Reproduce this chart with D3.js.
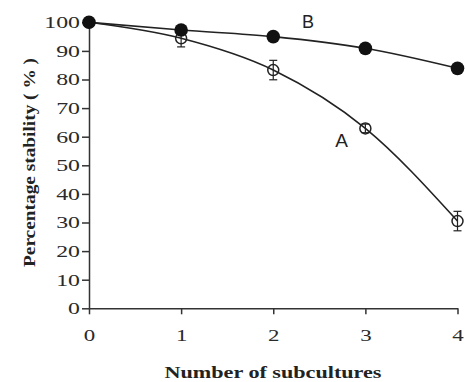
<!DOCTYPE html>
<html><head><meta charset="utf-8">
<script src="https://cdn.jsdelivr.net/npm/d3@7"></script>
<style>html,body{margin:0;padding:0;background:#fff;}svg{display:block;}</style>
</head><body>
<svg id="chart" width="465" height="382"></svg>
<script>
const subcultures = [0, 1, 2, 3, 4];
const seriesA = [100, 94.4, 83.3, 62.9, 30.5];
const errA = [1.2, 3.0, 3.4, 1.5, 3.4];
const seriesB = [100, 97.3, 95.0, 90.9, 83.9];
const errB = [1.0, 1.0, 1.0, 1.0, 1.2];
const yTicks = [0, 10, 20, 30, 40, 50, 60, 70, 80, 90, 100];
const xTicks = [0, 1, 2, 3, 4];

const svg = d3.select("#chart");
const x = d3.scaleLinear().domain([0, 4]).range([89, 457.5]);
const y = d3.scaleLinear().domain([0, 100]).range([308.3, 22.3]);
const ink = "#222";

function stretch(sel, k) {
  sel.each(function(){
    const w = this.getComputedTextLength();
    d3.select(this).attr("textLength", w * k).attr("lengthAdjust", "spacingAndGlyphs");
  });
}

// axes
const yAxis = svg.append("g").attr("transform", `translate(${x(0)},0)`)
  .call(d3.axisLeft(y).tickValues(yTicks).tickFormat(d3.format("d")).tickSize(7).tickPadding(2).tickSizeOuter(0));
const xAxis = svg.append("g").attr("transform", `translate(0,${y(0)})`)
  .call(d3.axisBottom(x).tickValues(xTicks).tickFormat(d3.format("d")).tickSize(6).tickPadding(15).tickSizeOuter(0));
[yAxis, xAxis].forEach(g => {
  g.select(".domain").attr("stroke", "#333").attr("stroke-width", 1.5);
  g.selectAll(".tick line").attr("stroke", "#333").attr("stroke-width", 1.5);
  g.selectAll(".tick text").attr("font-family", "'Liberation Serif', 'Times New Roman', serif")
    .attr("font-size", 17).attr("fill", "#2a2a2a");
});
yAxis.selectAll(".tick text").call(stretch, 1.4);
xAxis.selectAll(".tick text").call(stretch, 1.35);

// lines
const line = d3.line().x((d, i) => x(subcultures[i])).y(d => y(d)).curve(d3.curveMonotoneX);
svg.append("path").datum(seriesA).attr("d", line).attr("fill", "none").attr("stroke", ink).attr("stroke-width", 1.6);
svg.append("path").datum(seriesB).attr("d", line).attr("fill", "none").attr("stroke", ink).attr("stroke-width", 1.6);

// error bars
function errBars(vals, errs) {
  const g = svg.append("g").attr("stroke", ink).attr("stroke-width", 1.2);
  vals.forEach((v, i) => {
    const cx = x(subcultures[i]);
    g.append("line").attr("x1", cx).attr("x2", cx).attr("y1", y(v + errs[i])).attr("y2", y(v - errs[i]));
    [v + errs[i], v - errs[i]].forEach(e => {
      g.append("line").attr("x1", cx - 4).attr("x2", cx + 4).attr("y1", y(e)).attr("y2", y(e));
    });
  });
}
errBars(seriesA, errA);
errBars(seriesB, errB);

// markers
svg.append("g").selectAll("circle").data(seriesA).join("circle")
  .attr("cx", (d, i) => x(subcultures[i])).attr("cy", d => y(d)).attr("r", 5.5)
  .attr("fill", "none").attr("stroke", ink).attr("stroke-width", 1.5);
svg.append("g").selectAll("circle").data(seriesB).join("circle")
  .attr("cx", (d, i) => x(subcultures[i])).attr("cy", d => y(d)).attr("r", 6.8)
  .attr("fill", "#111");

// series labels
svg.append("text").attr("x", 308).attr("y", 28).attr("text-anchor", "middle")
  .attr("font-family", "'Liberation Sans', Arial, sans-serif").attr("font-size", 18).attr("fill", ink).text("B");
svg.append("text").attr("x", 341.5).attr("y", 147).attr("text-anchor", "middle")
  .attr("font-family", "'Liberation Sans', Arial, sans-serif").attr("font-size", 19).attr("fill", ink).text("A");

// axis titles
svg.append("text").attr("x", 273).attr("y", 378).attr("text-anchor", "middle")
  .attr("font-family", "'Liberation Serif', 'Times New Roman', serif").attr("font-weight", "bold")
  .attr("font-size", 17).attr("fill", "#222").text("Number of subcultures")
  .attr("textLength", 217).attr("lengthAdjust", "spacingAndGlyphs");
svg.append("text").attr("transform", "translate(35,162.5) rotate(-90)").attr("text-anchor", "middle")
  .attr("font-family", "'Liberation Serif', 'Times New Roman', serif").attr("font-weight", "bold")
  .attr("font-size", 17).attr("fill", "#222").text("Percentage stability ( % )")
  .attr("textLength", 209).attr("lengthAdjust", "spacingAndGlyphs");
</script>
</body></html>
